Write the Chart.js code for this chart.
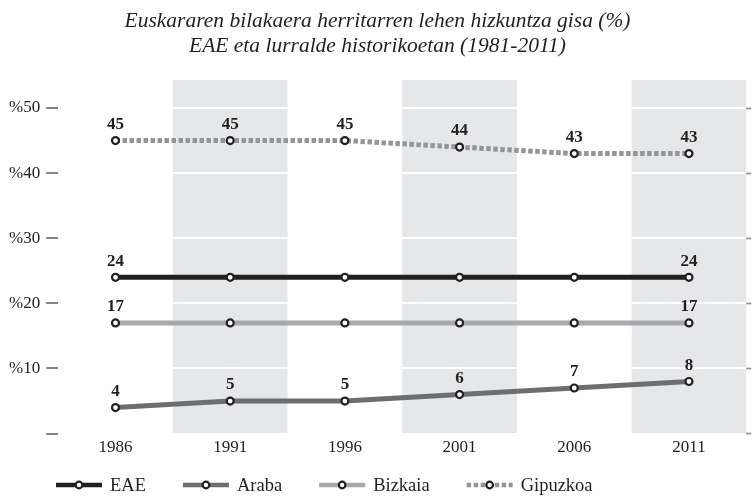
<!DOCTYPE html>
<html>
<head>
<meta charset="utf-8">
<script src="https://cdn.jsdelivr.net/npm/chart.js@4/dist/chart.umd.min.js"></script>
<style>
  html, body { margin: 0; padding: 0; background: #fff; }
  #wrap { width: 752px; height: 498px; }
</style>
</head>
<body>
<div id="wrap"><canvas id="myChart" width="752" height="498"></canvas></div>
<script>
'use strict';

//---------------------- Data -------------------
let years = ['1986', '1991', '1996', '2001', '2006', '2011'];
let eae = [24, 24, 24, 24, 24, 24];
let araba = [4, 5, 5, 6, 7, 8];
let bizkaia = [17, 17, 17, 17, 17, 17];
let gipuzkoa = [45, 45, 45, 44, 43, 43];
let seriesNames = ['EAE', 'Araba', 'Bizkaia', 'Gipuzkoa'];
let yTicks = [0, 10, 20, 30, 40, 50];
let shadedYears = ['1991', '2001', '2011'];
// which points carry a value label
let eaeLabels = [true, false, false, false, false, true];
let arabaLabels = [true, true, true, true, true, true];
let bizkaiaLabels = [true, false, false, false, false, true];
let gipuzkoaLabels = [true, true, true, true, true, true];

let serif = "'Liberation Serif', 'Times New Roman', serif";
let ink = '#231f20';
let colors = ['#231f20', '#6d6e71', '#a7a9ac', '#939598'];

function makeSet(name, data, color, labels, dashed) {
  return {
    label: name,
    data: data,
    showLabels: labels,
    borderColor: color,
    borderWidth: 5,
    borderDash: dashed ? [4.5, 2.5] : [],
    borderCapStyle: 'butt',
    tension: 0,
    fill: false,
    pointRadius: 3.5,
    pointHoverRadius: 3.5,
    pointBorderWidth: 2.2,
    pointBorderColor: ink,
    pointBackgroundColor: '#fff'
  };
}

// grey bands behind some years
let bandPlugin = {
  id: 'bands',
  beforeDraw(chart) {
    let ctx = chart.ctx;
    let x = chart.scales.x;
    let area = chart.chartArea;
    let step = x.getPixelForValue(1) - x.getPixelForValue(0);
    ctx.save();
    ctx.fillStyle = '#e6e7e8';
    for (let i = 0; i < years.length; i++) {
      if (shadedYears.includes(years[i])) {
        let cx = x.getPixelForValue(i);
        ctx.fillRect(cx - step / 2, area.top, step, area.bottom - area.top);
      }
    }
    ctx.restore();
  }
};

// value labels above points
let valuePlugin = {
  id: 'values',
  afterDatasetsDraw(chart) {
    let ctx = chart.ctx;
    ctx.save();
    ctx.font = 'bold 17px ' + serif;
    ctx.fillStyle = ink;
    ctx.textAlign = 'center';
    ctx.textBaseline = 'middle';
    chart.data.datasets.forEach((ds, d) => {
      let meta = chart.getDatasetMeta(d);
      meta.data.forEach((pt, i) => {
        if (ds.showLabels[i]) {
          ctx.fillText(String(ds.data[i]), pt.x, pt.y - 16);
        }
      });
    });
    ctx.restore();
  }
};

// legend: line sample with a marker, then the name
let legendPlugin = {
  id: 'lineLegend',
  afterDraw(chart) {
    let ctx = chart.ctx;
    let y = chart.height - 13;
    let x = 56;
    ctx.save();
    ctx.font = '18.5px ' + serif;
    ctx.textBaseline = 'middle';
    chart.data.datasets.forEach((ds) => {
      ctx.beginPath();
      ctx.setLineDash(ds.borderDash);
      ctx.lineWidth = 4.5;
      ctx.strokeStyle = ds.borderColor;
      ctx.moveTo(x, y);
      ctx.lineTo(x + 46, y);
      ctx.stroke();
      ctx.setLineDash([]);
      ctx.beginPath();
      ctx.arc(x + 23, y, 3.3, 0, Math.PI * 2);
      ctx.fillStyle = '#fff';
      ctx.fill();
      ctx.lineWidth = 2.2;
      ctx.strokeStyle = ink;
      ctx.stroke();
      ctx.fillStyle = ink;
      ctx.fillText(ds.label, x + 54, y + 1);
      x += 54 + ctx.measureText(ds.label).width + 37;
    });
    ctx.restore();
  }
};

function keepTicks(axis) {
  axis.ticks = axis.ticks.filter(t => yTicks.includes(t.value));
}

let ctx = document.getElementById('myChart').getContext('2d');
let myChart = new Chart(ctx, {
  type: 'line',
  data: {
    labels: years,
    datasets: [
      makeSet(seriesNames[0], eae, colors[0], eaeLabels, false),
      makeSet(seriesNames[1], araba, colors[1], arabaLabels, false),
      makeSet(seriesNames[2], bizkaia, colors[2], bizkaiaLabels, false),
      makeSet(seriesNames[3], gipuzkoa, colors[3], gipuzkoaLabels, true)
    ]
  },
  plugins: [bandPlugin, valuePlugin, legendPlugin],
  options: {
    responsive: false,
    animation: false,
    events: [],
    layout: { padding: { left: 3, right: 0, top: 0, bottom: 44 } },
    plugins: {
      legend: { display: false },
      tooltip: { enabled: false },
      title: {
        display: true,
        text: ['Euskararen bilakaera herritarren lehen hizkuntza gisa (%)',
               'EAE eta lurralde historikoetan (1981-2011)'],
        color: ink,
        font: { family: serif, size: 21.5, style: 'italic', weight: 'normal', lineHeight: 1.2 },
        padding: { top: 8, bottom: 20.4 }
      }
    },
    scales: {
      x: {
        offset: true,
        grid: { display: false },
        border: { display: false },
        ticks: { color: ink, padding: -4, font: { family: serif, size: 17 } }
      },
      y: {
        min: 0,
        max: 54.3,
        afterBuildTicks: keepTicks,
        border: { display: false },
        grid: { color: '#ffffff', lineWidth: 2, tickColor: '#6d6e71', tickLength: 12, tickWidth: 1.7 },
        ticks: {
          stepSize: 10,
          padding: 6,
          color: ink,
          font: { family: serif, size: 17 },
          callback: v => v === 0 ? '' : '%' + v
        }
      },
      y2: {
        position: 'right',
        min: 0,
        max: 54.3,
        afterBuildTicks: keepTicks,
        border: { display: false },
        grid: { drawOnChartArea: false, tickColor: '#939598', tickLength: 5, tickWidth: 1.7 },
        ticks: { display: false, stepSize: 10 }
      }
    }
  }
});
</script>
</body>
</html>
